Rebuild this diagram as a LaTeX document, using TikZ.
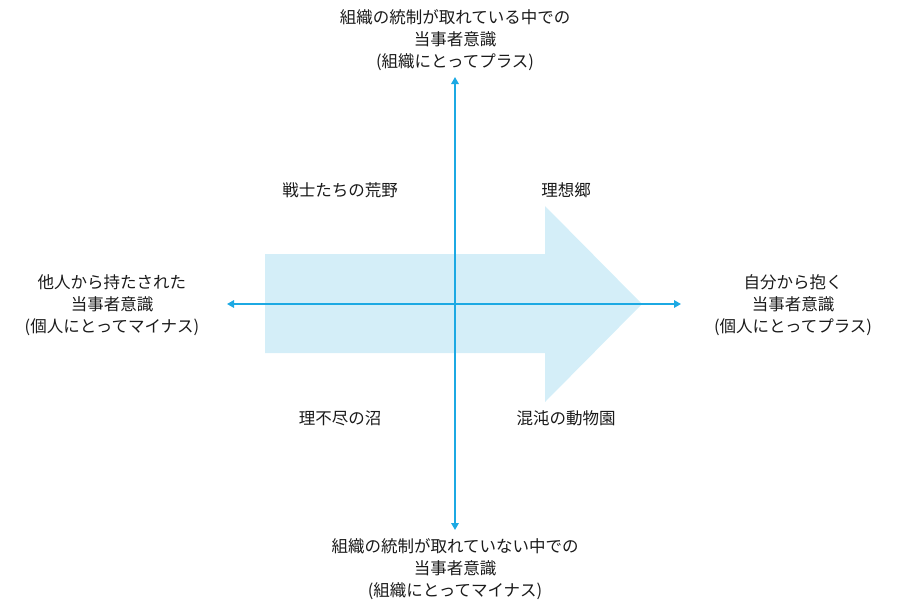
\documentclass[tikz,border=0pt]{standalone}
\usepackage{fontspec}
\setmainfont{Noto Sans CJK JP}
\usetikzlibrary{arrows.meta}
\definecolor{axisblue}{HTML}{1CA9E3}
\definecolor{arrowfill}{HTML}{D4EEF8}
\definecolor{txt}{HTML}{1A1A1A}
\tikzset{
  axis/.style={draw=axisblue, line width=1.6pt, {Triangle[length=7pt,width=7.5pt]}-{Triangle[length=7pt,width=7.5pt]}},
  lbl/.style={text=txt, font=\fontsize{16.5pt}{22pt}\selectfont, align=center, inner sep=0pt},
}
\begin{document}
\begin{tikzpicture}[x=1pt,y=-1pt]
\useasboundingbox (0,0) rectangle (908,614);
% big arrow
\fill[arrowfill] (265,254) -- (545,254) -- (545,206) -- (642,304) -- (545,402) -- (545,353) -- (265,353) -- cycle;
% axes
\coordinate (L) at (227,304);
\coordinate (R) at (681,304);
\coordinate (T) at (455,77);
\coordinate (B) at (455,530);
\draw[axis] (L) -- (R);
\draw[axis] (T) -- (B);
% labels
\node[lbl] (top) at (455,40) {組織の統制が取れている中での\\当事者意識\\(組織にとってプラス)};
\node[lbl] (bottom) at (455,569) {組織の統制が取れていない中での\\当事者意識\\(組織にとってマイナス)};
\node[lbl] (left) at (112,305) {他人から持たされた\\当事者意識\\(個人にとってマイナス)};
\node[lbl] (right) at (793,305) {自分から抱く\\当事者意識\\(個人にとってプラス)};
\node[lbl] (q1) at (340,190) {戦士たちの荒野};
\node[lbl] (q2) at (566,190) {理想郷};
\node[lbl] (q3) at (340,418) {理不尽の沼};
\node[lbl] (q4) at (566,418) {混沌の動物園};
\end{tikzpicture}
\end{document}
